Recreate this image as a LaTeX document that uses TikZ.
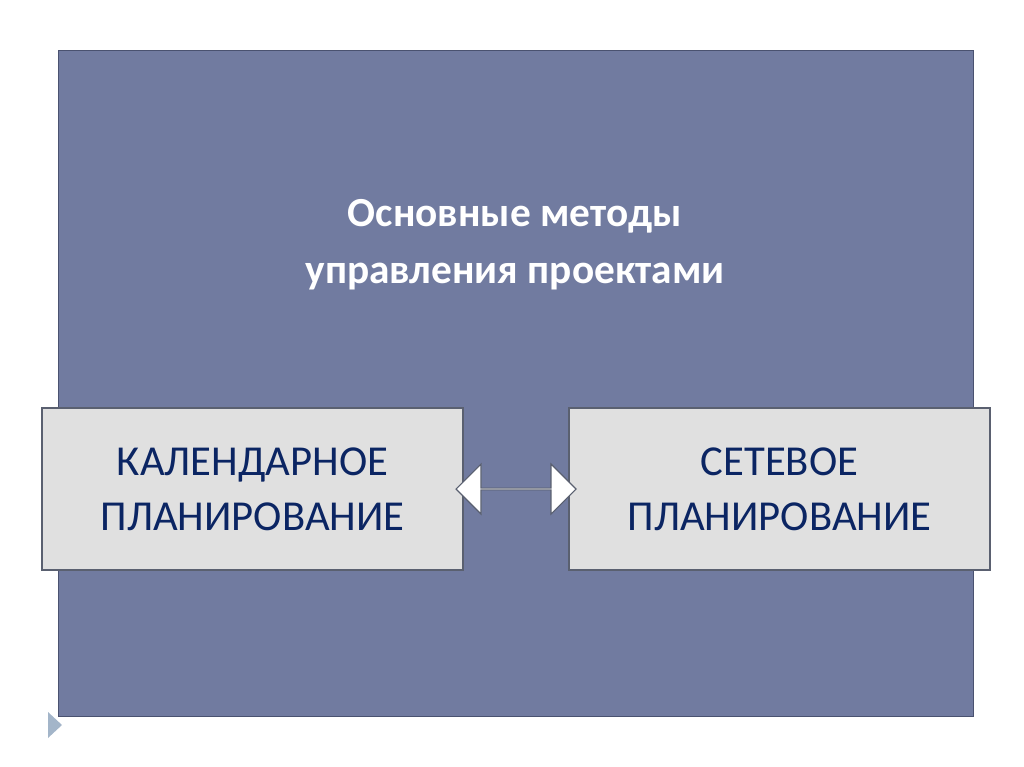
\documentclass[tikz,border=0pt]{standalone}
\usepackage{fontspec}
\setmainfont{Carlito}
\usetikzlibrary{shapes.arrows, calc}
\definecolor{panelfill}{HTML}{717BA0}
\definecolor{panelline}{HTML}{4A5270}
\definecolor{boxfill}{HTML}{E0E0E0}
\definecolor{boxline}{HTML}{5A6070}
\definecolor{boxtext}{HTML}{0B2563}
\definecolor{markfill}{HTML}{A3B5C9}
\tikzset{
    panel/.style={
        rectangle,
        draw=panelline,
        fill=panelfill,
        line width=1pt
    },
    method/.style={
        rectangle,
        draw=boxline,
        fill=boxfill,
        line width=1pt,
        minimum width=315.75pt,
        minimum height=121.5pt,
        align=center,
        text=boxtext,
        font=\fontsize{32}{41}\selectfont
    },
    heading/.style={
        align=center,
        text=white,
        font=\fontsize{31}{43}\selectfont\bfseries
    },
    linkarrow/.style={
        double arrow,
        draw=boxline,
        fill=white,
        line width=0.8pt,
        minimum width=37.5pt,
        double arrow head extend=11pt,
        double arrow head indent=0pt,
        minimum height=90pt,
        inner sep=0pt
    }
}
\begin{document}
\begin{tikzpicture}[x=0.75pt,y=-0.75pt]
\useasboundingbox (0,0) rectangle (1024,767);

% Background panel
\node[panel, minimum width=686.25pt, minimum height=499.5pt, anchor=north west] (panel) at (58,50) {};

% Title
\node[heading] (title) at (515,245) {Основные методы\\управления проектами};

% Methods
\node[method] (calendar) at (252.5,489) {КАЛЕНДАРНОЕ\\ПЛАНИРОВАНИЕ};
\node[method] (network) at (779.5,489) {СЕТЕВОЕ\\ПЛАНИРОВАНИЕ};

% Link between methods
\node[linkarrow] (link) at ($(calendar.east)!0.5!(network.west)$) {};

% Slide marker
\fill[markfill] (48,712) -- (62,725) -- (48,738) -- cycle;

\end{tikzpicture}
\end{document}
